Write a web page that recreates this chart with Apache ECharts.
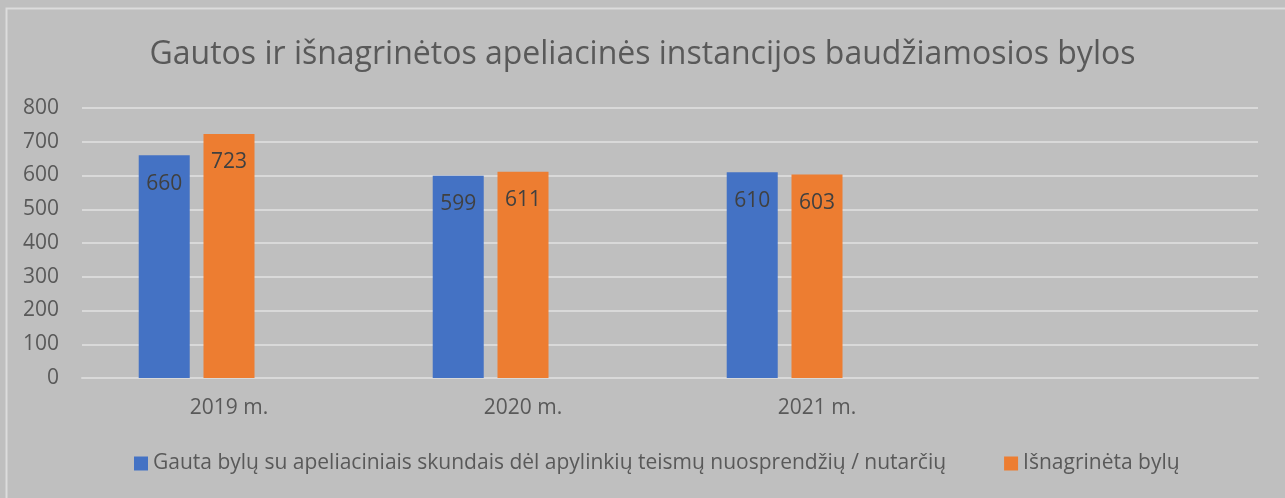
<!DOCTYPE html>
<html>
<head>
    <meta charset="utf-8"/>
    <style>
        html, body {
            height: 100%;
            margin: 0;
            padding: 0;
            background: #bfbfbf;
        }

        .container {
            width: 1285px;
            height: 498px;
        }
    </style>
</head>
<body>
<div id="main" class="container"></div>
<script src="https://cdn.jsdelivr.net/npm/echarts@6/dist/echarts.min.js"></script>
<script type="text/javascript">
// duomenys
var categories = ['2019 m.', '2020 m.', '2021 m.', ''];
var gautaValues = [660, 599, 610, null];
var isnagrinetaValues = [723, 611, 603, null];
var emptyValues = [null, null, null, null];
var yTicks = [0, 100, 200, 300, 400, 500, 600, 700, 800];

var seriesNames = [
    'Gauta bylų su apeliaciniais skundais dėl apylinkių teismų nuosprendžių / nutarčių',
    'Išnagrinėta bylų'
];

var textColor = '#595959';
var gridColor = '#d9d9d9';
var fontName = 'Open Sans';

var myChart = echarts.init(document.getElementById('main'));

function barSeries(name, data, color) {
    return {
        name: name,
        type: 'bar',
        data: data,
        barWidth: 51,
        barGap: '27%',
        itemStyle: {color: color},
        label: {
            show: true,
            position: 'insideTop',
            distance: 18,
            color: '#404040',
            fontSize: 21,
            fontFamily: fontName
        }
    };
}

var option = {
    backgroundColor: '#bfbfbf',
    animation: false,
    textStyle: {fontFamily: fontName},
    graphic: [{
        type: 'rect',
        shape: {x: 6.5, y: 8.5, width: 1400, height: 600},
        style: {fill: null, stroke: '#dcdcdc', lineWidth: 2},
        silent: true
    }],
    title: {
        text: 'Gautos ir išnagrinėtos apeliacinės instancijos baudžiamosios bylos',
        left: 'center',
        top: 34,
        textStyle: {
            color: textColor,
            fontSize: 32,
            fontWeight: 'normal',
            fontFamily: fontName
        }
    },
    legend: {
        data: seriesNames,
        bottom: 19,
        left: 129,
        icon: 'rect',
        itemWidth: 14,
        itemHeight: 14,
        itemGap: 58,
        selectedMode: false,
        textStyle: {color: textColor, fontSize: 21, fontFamily: fontName}
    },
    grid: {
        left: 82,
        right: 27,
        top: 108,
        bottom: 120,
        containLabel: false
    },
    xAxis: {
        type: 'category',
        data: categories,
        axisLine: {lineStyle: {color: gridColor, width: 2}},
        axisTick: {show: false},
        axisLabel: {color: textColor, fontSize: 21, margin: 20, fontFamily: fontName}
    },
    yAxis: {
        type: 'value',
        min: yTicks[0],
        max: yTicks[yTicks.length - 1],
        interval: 100,
        axisLine: {show: false},
        axisTick: {show: false},
        splitLine: {lineStyle: {color: gridColor, width: 2}},
        axisLabel: {color: textColor, fontSize: 21, margin: 23, fontFamily: fontName}
    },
    series: [
        barSeries(seriesNames[0], gautaValues, '#4472c4'),
        barSeries(seriesNames[1], isnagrinetaValues, '#ed7d31'),
        barSeries('tuščia', emptyValues, '#a5a5a5')
    ]
};

myChart.setOption(option);
</script>
</body>
</html>
